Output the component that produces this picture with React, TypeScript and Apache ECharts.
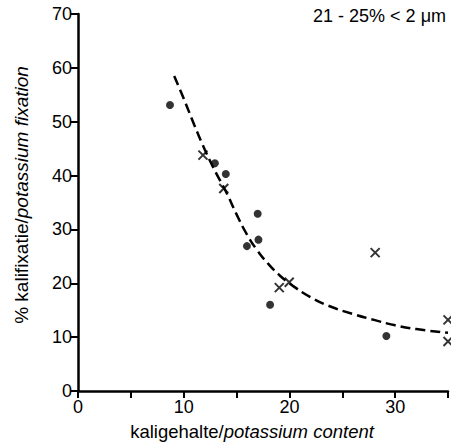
import { useEffect, useRef } from "react";
import * as echarts from "echarts";

// kaligehalte (x) vs % kalifixatie (y)
const dotData: [number, number][] = [
  [8.7, 53.1],
  [12.95, 42.3],
  [13.98, 40.3],
  [17.0, 32.9],
  [17.07, 28.1],
  [15.98, 26.9],
  [18.17, 16.0],
  [29.17, 10.2],
];
const crossData: [number, number][] = [
  [11.82, 43.8],
  [13.79, 37.6],
  [19.04, 19.2],
  [19.98, 20.2],
  [28.11, 25.7],
  [35.0, 13.2],
  [35.0, 9.2],
];
const curveData: [number, number][] = [
  [9.1, 58.5],
  [10, 54.3],
  [11, 49.4],
  [12, 44.8],
  [13, 40.7],
  [14, 37.0],
  [15, 32.8],
  [16, 29.0],
  [17, 26.0],
  [18, 23.6],
  [19, 21.6],
  [20, 20.0],
  [22, 17.4],
  [24, 15.6],
  [26, 14.3],
  [28, 13.2],
  [30, 12.2],
  [32, 11.5],
  [35, 10.8],
];
const xLabels = ["0", "10", "20", "30"];

const FONT = "'Liberation Sans', Arial, Helvetica, sans-serif";

export default function App() {
  const ref = useRef<HTMLDivElement>(null);
  useEffect(() => {
    const chart = echarts.init(ref.current!, null, { renderer: "svg" });
    chart.setOption({
      animation: false,
      backgroundColor: "#fff",
      textStyle: { fontFamily: FONT },
      grid: { left: 78, right: 0, top: 14, bottom: 57 },
      xAxis: {
        type: "value",
        min: 0,
        max: 35,
        interval: 5,
        axisLine: { lineStyle: { color: "#000", width: 2.5 } },
        axisTick: { length: 7, lineStyle: { color: "#000", width: 2 } },
        axisLabel: {
          color: "#000",
          fontSize: 18,
          fontFamily: FONT,
          margin: 7,
          formatter: (v: number) => (xLabels.includes(String(v)) ? String(v) : ""),
        },
        splitLine: { show: false },
      },
      yAxis: {
        type: "value",
        min: 0,
        max: 70,
        interval: 10,
        axisLine: { show: true, lineStyle: { color: "#000", width: 2.5 } },
        axisTick: { show: true, length: 7, lineStyle: { color: "#000", width: 2 } },
        axisLabel: { color: "#000", fontSize: 18, fontFamily: FONT, margin: 6 },
        splitLine: { show: false },
      },
      graphic: [
        {
          type: "text",
          x: 446,
          y: 16,
          style: {
            text: "21 - 25% < 2 \u03bcm",
            fontSize: 18,
            fontFamily: FONT,
            fill: "#000",
            align: "right",
            verticalAlign: "middle",
          },
        },
        {
          type: "text",
          x: 252,
          y: 431,
          style: {
            text: "{a|kaligehalte/}{b|potassium content}",
            align: "center",
            verticalAlign: "middle",
            rich: {
              a: { fontSize: 18.5, fontFamily: FONT, fill: "#000" },
              b: { fontSize: 18.5, fontFamily: FONT, fontStyle: "italic", fill: "#000" },
            },
          },
        },
        {
          type: "text",
          x: 21,
          y: 195,
          rotation: Math.PI / 2,
          style: {
            text: "{a|% kalifixatie/}{b|potassium fixation}",
            align: "center",
            verticalAlign: "middle",
            rich: {
              a: { fontSize: 19, fontFamily: FONT, fill: "#000" },
              b: { fontSize: 19, fontFamily: FONT, fontStyle: "italic", fill: "#000" },
            },
          },
        },
      ],
      series: [
        {
          type: "line",
          data: curveData,
          smooth: true,
          showSymbol: false,
          symbol: "none",
          lineStyle: { color: "#000", width: 2.5, type: [10, 5] },
          z: 1,
        },
        {
          type: "scatter",
          data: dotData,
          symbol: "circle",
          symbolSize: 8,
          itemStyle: { color: "#000" },
          z: 3,
        },
        {
          type: "scatter",
          data: crossData,
          clip: false,
          symbol: "path://M0,0L10,10M10,0L0,10",
          symbolSize: 9,
          itemStyle: { color: "none", borderColor: "#000", borderWidth: 2 },
          z: 3,
        },
      ],
    });
    return () => chart.dispose();
  }, []);
  return (
    <div
      ref={ref}
      style={{ position: "absolute", left: 0, top: 0, width: 451, height: 448, background: "#fff" }}
    />
  );
}
